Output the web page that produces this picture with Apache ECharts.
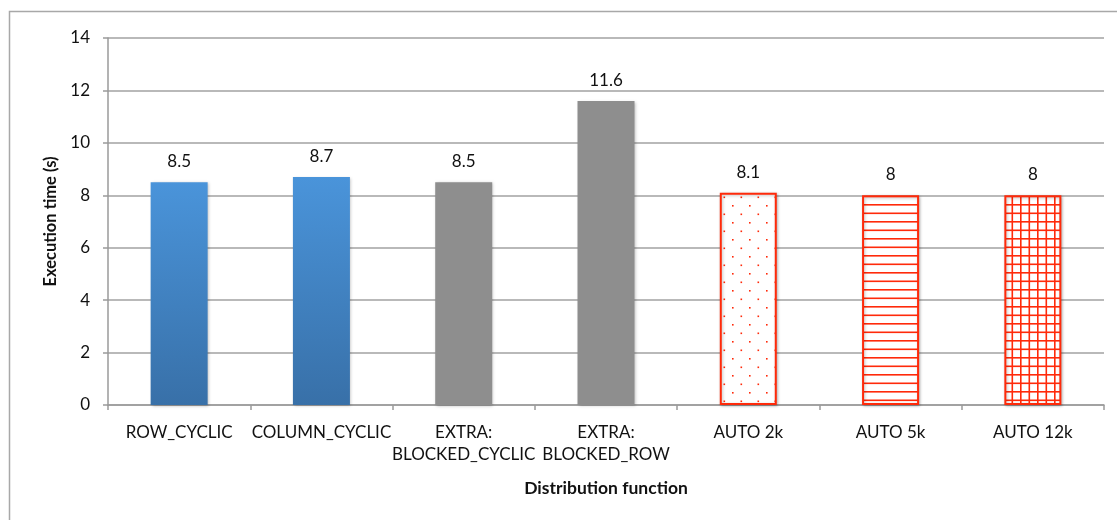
<!DOCTYPE html>
<html>
<head>
<meta charset="utf-8">
<style>
  html, body { margin: 0; padding: 0; background: #fff; }
  #chart { width: 1117px; height: 520px; }
</style>
<script src="https://cdn.jsdelivr.net/npm/echarts@6/dist/echarts.min.js"></script>
</head>
<body>
<div id="chart"></div>
<script>
// Distribution functions and their execution times (seconds)
const categories = [
  'ROW_CYCLIC',
  'COLUMN_CYCLIC',
  'EXTRA:\nBLOCKED_CYCLIC',
  'EXTRA:\nBLOCKED_ROW',
  'AUTO 2k',
  'AUTO 5k',
  'AUTO 12k'
];
const times = [8.5, 8.7, 8.5, 11.6, 8.1, 8, 8];
const yTicks = { min: 0, max: 14, step: 2 };

const RED = '#ff2a0a';
const FONT = 'Lato, "Open Sans", sans-serif';

// Tile canvases used as repeating fills
function makeTile(w, h, draw) {
  const c = document.createElement('canvas');
  c.width = w; c.height = h;
  const ctx = c.getContext('2d');
  ctx.fillStyle = '#ffffff';
  ctx.fillRect(0, 0, w, h);
  ctx.fillStyle = RED;
  draw(ctx);
  return c;
}
const dotTile = makeTile(17, 17, ctx => {
  ctx.fillRect(1, 1, 1.6, 1.6);
  ctx.fillRect(9.5, 9.5, 1.6, 1.6);
});
const hLineTile = makeTile(4, 17, ctx => {
  ctx.fillRect(0, 0, 4, 1.6);
  ctx.fillRect(0, 8.5, 4, 1.6);
});
const gridTile = makeTile(17, 17, ctx => {
  ctx.fillRect(0, 0, 17, 1.6);
  ctx.fillRect(0, 8.5, 17, 1.6);
  ctx.fillRect(0, 0, 1.6, 17);
  ctx.fillRect(8.5, 0, 1.6, 17);
});

const blueFill = {
  type: 'linear', x: 0, y: 0, x2: 0, y2: 1,
  colorStops: [{ offset: 0, color: '#4a94da' }, { offset: 1, color: '#3870a8' }]
};
const grayFill = '#8e8e8e';
const patternFill = tile => ({ image: tile, repeat: 'repeat' });

const styles = [
  { color: blueFill },
  { color: blueFill },
  { color: grayFill },
  { color: grayFill },
  { color: patternFill(dotTile), borderColor: RED, borderWidth: 2 },
  { color: patternFill(hLineTile), borderColor: RED, borderWidth: 2 },
  { color: patternFill(gridTile), borderColor: RED, borderWidth: 2 }
];

const chart = echarts.init(document.getElementById('chart'), null, { renderer: 'canvas' });

chart.setOption({
  animation: false,
  backgroundColor: '#ffffff',
  textStyle: { fontFamily: FONT },
  graphic: [{
    type: 'rect',
    shape: { x: 9.5, y: 11.5, width: 1200, height: 600 },
    style: { fill: 'none', stroke: '#a8a8a8', lineWidth: 1.5 },
    silent: true
  }],
  grid: { left: 108, right: 13, top: 38, bottom: 115, containLabel: false },
  xAxis: {
    type: 'category',
    data: categories,
    name: 'Distribution function',
    nameLocation: 'middle',
    nameGap: 74,
    nameTextStyle: { fontFamily: FONT, fontWeight: 'bold', fontSize: 17.5, color: '#111' },
    axisLine: { lineStyle: { color: '#9a9a9a', width: 1.5 } },
    axisTick: { show: true, length: 5, lineStyle: { color: '#9a9a9a', width: 1.5 } },
    axisLabel: { color: '#111', fontSize: 17, margin: 17, lineHeight: 22, interval: 0, fontFamily: FONT }
  },
  yAxis: {
    type: 'value',
    min: yTicks.min,
    max: yTicks.max,
    interval: yTicks.step,
    name: 'Execution time (s)',
    nameLocation: 'middle',
    nameGap: 49,
    nameTextStyle: { fontFamily: FONT, fontWeight: 'bold', fontSize: 16.5, color: '#111' },
    axisLine: { show: true, lineStyle: { color: '#9a9a9a', width: 1.5 } },
    axisTick: { show: true, length: 5, lineStyle: { color: '#9a9a9a', width: 1.5 } },
    axisLabel: { color: '#111', fontSize: 17, margin: 18, fontFamily: FONT },
    splitLine: { lineStyle: { color: '#a2a2a2', width: 1.5 } }
  },
  series: [{
    type: 'bar',
    barWidth: 57,
    data: times.map((v, i) => ({
      value: v,
      itemStyle: Object.assign({ shadowColor: 'rgba(0,0,0,0.25)', shadowBlur: 3, shadowOffsetX: 1, shadowOffsetY: 1 }, styles[i])
    })),
    label: {
      show: true,
      position: 'top',
      distance: 12,
      color: '#111',
      fontSize: 17,
      fontFamily: FONT
    }
  }]
});
</script>
</body>
</html>
